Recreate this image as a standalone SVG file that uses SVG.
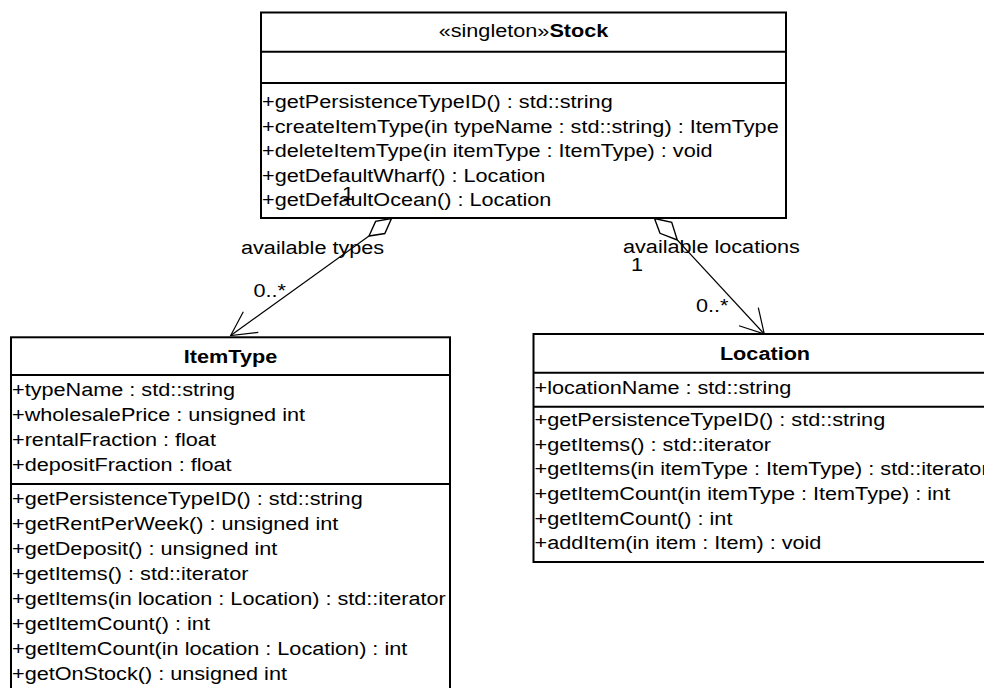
<svg xmlns="http://www.w3.org/2000/svg" width="984" height="688" viewBox="0 0 984 688">
  <style>
    .box { fill: #ffffff; stroke: #000000; stroke-width: 2; }
    .sep { stroke: #000000; stroke-width: 2; }
    .t { font-family: "Liberation Sans", Arial, sans-serif; font-size: 19px; fill: #000000; }
    .b { font-weight: bold; }
    .mid { text-anchor: middle; }
    .edge { fill: none; stroke: #000000; stroke-width: 1.2; }
    .agg { fill: #ffffff; stroke: #000000; stroke-width: 1.4; stroke-linejoin: miter; }
  </style>
  <rect width="984" height="688" fill="#ffffff"/>

  <!-- Stock class -->
  <g id="stock">
    <rect class="box" x="261" y="12.5" width="525" height="205.5"/>
    <line class="sep" x1="261" y1="51.7" x2="786" y2="51.7"/>
    <line class="sep" x1="261" y1="83" x2="786" y2="83"/>
    <g transform="translate(262,0) scale(1.14,1)">
      <text class="t mid" x="229.4" y="36.8">«singleton»<tspan class="b">Stock</tspan></text>
      <text class="t" x="0" y="108.5">+getPersistenceTypeID() : std::string</text>
      <text class="t" x="0" y="133">+createItemType(in typeName : std::string) : ItemType</text>
      <text class="t" x="0" y="157.5">+deleteItemType(in itemType : ItemType) : void</text>
      <text class="t" x="0" y="182">+getDefaultWharf() : Location</text>
      <text class="t" x="0" y="206.5">+getDefaultOcean() : Location</text>
    </g>
  </g>

  <!-- ItemType class -->
  <g id="itemtype">
    <rect class="box" x="11" y="337.3" width="439" height="370"/>
    <line class="sep" x1="11" y1="375" x2="450" y2="375"/>
    <line class="sep" x1="11" y1="484" x2="450" y2="484"/>
    <g transform="translate(12,0) scale(1.14,1)">
      <text class="t b mid" x="191.7" y="363">ItemType</text>
      <text class="t" x="0" y="396.3">+typeName : std::string</text>
      <text class="t" x="0" y="421.3">+wholesalePrice : unsigned int</text>
      <text class="t" x="0" y="446.3">+rentalFraction : float</text>
      <text class="t" x="0" y="471.3">+depositFraction : float</text>
      <text class="t" x="0" y="505.5">+getPersistenceTypeID() : std::string</text>
      <text class="t" x="0" y="530.4">+getRentPerWeek() : unsigned int</text>
      <text class="t" x="0" y="555.3">+getDeposit() : unsigned int</text>
      <text class="t" x="0" y="580.2">+getItems() : std::iterator</text>
      <text class="t" x="0" y="605.1">+getItems(in location : Location) : std::iterator</text>
      <text class="t" x="0" y="630">+getItemCount() : int</text>
      <text class="t" x="0" y="654.9">+getItemCount(in location : Location) : int</text>
      <text class="t" x="0" y="679.8">+getOnStock() : unsigned int</text>
    </g>
  </g>

  <!-- Location class -->
  <g id="location">
    <rect class="box" x="533.5" y="334" width="463" height="228"/>
    <line class="sep" x1="533.5" y1="372.7" x2="996.5" y2="372.7"/>
    <line class="sep" x1="533.5" y1="406.7" x2="996.5" y2="406.7"/>
    <g transform="translate(534.5,0) scale(1.14,1)">
      <text class="t b mid" x="202.2" y="360">Location</text>
      <text class="t" x="0" y="394.5">+locationName : std::string</text>
      <text class="t" x="0" y="426">+getPersistenceTypeID() : std::string</text>
      <text class="t" x="0" y="450.7">+getItems() : std::iterator</text>
      <text class="t" x="0" y="475.4">+getItems(in itemType : ItemType) : std::iterator</text>
      <text class="t" x="0" y="500.1">+getItemCount(in itemType : ItemType) : int</text>
      <text class="t" x="0" y="524.8">+getItemCount() : int</text>
      <text class="t" x="0" y="549.5">+addItem(in item : Item) : void</text>
    </g>
  </g>

  <!-- Aggregations from Stock -->
  <g id="connectors">
    <!-- Stock to ItemType -->
    <polyline class="edge" points="369,236 230.7,335.5"/>
    <polyline class="edge" points="243.3,311.7 230.7,335.5 258.3,332.3"/>
    <polygon class="agg" points="391.5,218.5 384.8,233.5 369,236 375.6,221.4"/>
    <!-- Stock to Location -->
    <polyline class="edge" points="677.3,240 764.3,334"/>
    <polyline class="edge" points="758.3,307.7 764.3,334 739,325.7"/>
    <polygon class="agg" points="654.5,218.5 671.7,222.3 677.3,240 660,233.3"/>

    <text class="t" transform="translate(342,200) scale(1.14,1)">1</text>
    <text class="t" transform="translate(241,254) scale(1.14,1)">available types</text>
    <text class="t" transform="translate(253.5,297.3) scale(1.14,1)">0..*</text>
    <text class="t" transform="translate(623,253.3) scale(1.14,1)">available locations</text>
    <text class="t" transform="translate(631,270.7) scale(1.14,1)">1</text>
    <text class="t" transform="translate(696,311.7) scale(1.14,1)">0..*</text>
  </g>
</svg>
